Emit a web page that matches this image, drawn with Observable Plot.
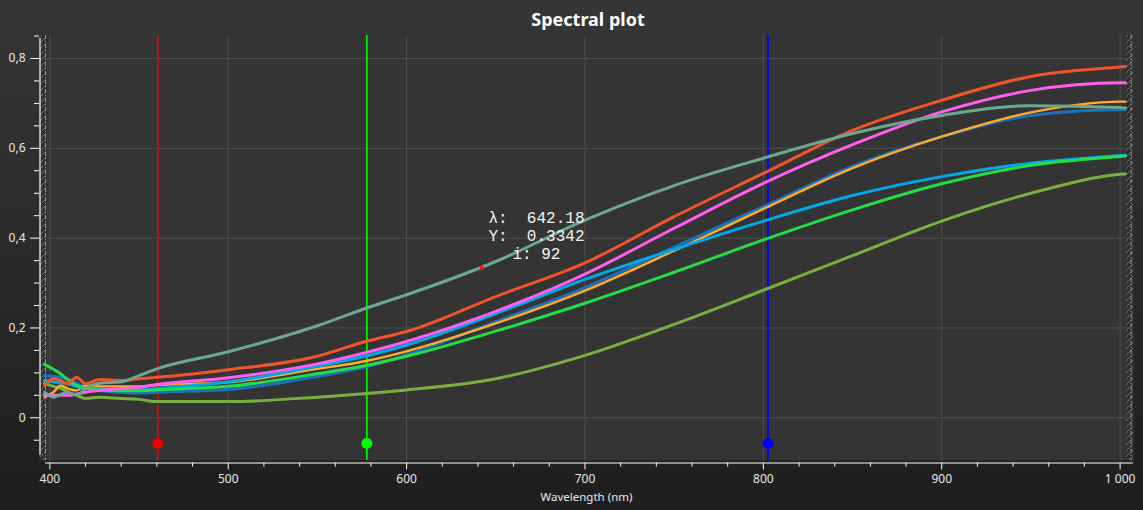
<!DOCTYPE html>
<html><head><meta charset="utf-8">
<script src="https://cdn.jsdelivr.net/npm/d3@7"></script>
<script src="https://cdn.jsdelivr.net/npm/@observablehq/plot@0.6"></script>
<style>
html,body{margin:0;padding:0;}
body{width:1143px;height:510px;overflow:hidden;background:linear-gradient(#363636,#1e1e1e);font-family:"Noto Sans",sans-serif;}
#title{height:35px;line-height:38px;text-align:center;color:#fff;font-weight:bold;font-size:18px;padding-left:33px;box-sizing:border-box;}
#chart svg{display:block;}
</style></head><body>
<div id="title">Spectral plot</div>
<div id="chart"></div>
<script>
// ---- data ----
const wavelengths = [397, 402, 406, 410, 415, 420, 428, 440, 450, 460, 500, 550, 578, 600, 650, 700, 750, 800, 850, 900, 950, 1000, 1003];
const olive   = [0.076,0.070,0.066,0.057,0.050,0.043,0.046,0.043,0.041,0.036,0.036,0.046,0.054,0.062,0.087,0.139,0.208,0.284,0.361,0.438,0.500,0.542,0.543];
const blue    = [0.094,0.092,0.090,0.087,0.077,0.068,0.060,0.057,0.055,0.057,0.063,0.092,0.114,0.140,0.214,0.290,0.380,0.470,0.560,0.626,0.673,0.686,0.686];
const orange  = [0.046,0.057,0.072,0.065,0.061,0.072,0.070,0.070,0.070,0.073,0.079,0.109,0.127,0.148,0.210,0.283,0.372,0.465,0.556,0.626,0.680,0.704,0.704];
const cyan    = [0.083,0.080,0.078,0.076,0.070,0.065,0.065,0.065,0.062,0.065,0.080,0.115,0.138,0.162,0.232,0.308,0.375,0.438,0.495,0.537,0.567,0.584,0.585];
const green   = [0.119,0.108,0.098,0.085,0.072,0.066,0.062,0.060,0.060,0.062,0.070,0.098,0.117,0.137,0.193,0.255,0.324,0.396,0.463,0.521,0.562,0.582,0.583];
const magenta = [0.050,0.050,0.050,0.050,0.053,0.057,0.061,0.065,0.068,0.074,0.089,0.120,0.146,0.170,0.237,0.320,0.422,0.522,0.608,0.681,0.729,0.746,0.746];
const red     = [0.072,0.087,0.083,0.076,0.090,0.076,0.085,0.083,0.087,0.090,0.107,0.137,0.171,0.192,0.270,0.345,0.448,0.544,0.640,0.707,0.760,0.781,0.782];
const teal    = [0.057,0.046,0.052,0.057,0.050,0.065,0.077,0.080,0.094,0.109,0.147,0.205,0.245,0.274,0.348,0.440,0.517,0.578,0.633,0.673,0.695,0.691,0.690];

const seriesNames  = ["olive","blue","orange","cyan","green","magenta","red","teal"];
const seriesValues = [olive, blue, orange, cyan, green, magenta, red, teal];
const seriesColors = ["#78b040","#1a72bf","#ffab2c","#00a9e8","#24dc48","#ff5ef0","#f2542a","#6aa990"];

const cursorWavelengths = [460.5, 577.7, 802.6];
const cursorColors = ["#ee0000","#00ff00","#0000ff"];
const cursorMarkerY = -0.057;

const probe = {lambda: 642.18, y: 0.3342, i: 92};

const xMajorTicks = [400, 500, 600, 700, 800, 900, 1000];
const xMinorTicks = d3.range(400, 1001, 20).filter(d => d % 100 !== 0);
const yMajorTicks = [0, 0.2, 0.4, 0.6, 0.8];
const yMinorTicks = d3.range(-0.05, 0.851, 0.05).map(d => +d.toFixed(2)).filter(d => Math.round(d * 100) % 20 !== 0);

// ---- chart ----
const xDom = [394.2, 1007.5];
const yDom = [-0.0951, 0.8512];

const lineMarks = seriesValues.map((vals, k) =>
  Plot.line(wavelengths.map((w, i) => ({w, v: vals[i]})), {
    x: "w", y: "v", stroke: seriesColors[k], strokeWidth: k === 2 ? 2.4 : 3, curve: "monotone-x"
  })
);

const fmtX = d => d >= 1000 ? String(d).replace(/\B(?=(\d{3})+(?!\d))/g, " ") : String(d);
const fmtY = d => d === 0 ? "0" : String(+d.toFixed(2)).replace(".", ",");

const chart = Plot.plot({
  width: 1143,
  height: 475,
  marginTop: 0,
  marginBottom: 50,
  marginLeft: 39,
  marginRight: 10,
  x: {domain: xDom},
  y: {domain: yDom},
  style: {background: "transparent", color: "#e8e8e8", fontSize: "12px", fontFamily: "'Noto Sans', sans-serif", overflow: "visible"},
  marks: [
    Plot.frame({fill: "#343434", stroke: null}),
    Plot.rect([0], {x1: 394.8, x2: 398.2, y1: yDom[0], y2: yDom[1], fill: "url(#hatch)"}),
    Plot.rect([0], {x1: 1003.5, x2: 1007.5, y1: yDom[0], y2: yDom[1], fill: "url(#hatch)"}),
    Plot.ruleX([397.6, 1006.2], {stroke: "#9a9a9a", strokeDasharray: "4,2,1,2", strokeWidth: 1}),
    Plot.gridX(xMajorTicks, {stroke: "#4d4d4d", strokeOpacity: 1}),
    Plot.gridY(yMajorTicks, {stroke: "#4d4d4d", strokeOpacity: 1}),
    Plot.ruleX(cursorWavelengths, {x: d => d, stroke: (d, i) => cursorColors[i], strokeWidth: 1.6}),
    ...lineMarks,
    Plot.dot(cursorWavelengths, {x: d => d, y: () => cursorMarkerY, fill: (d, i) => cursorColors[i], r: 5.5, stroke: null}),
    Plot.dot([probe], {x: "lambda", y: "y", fill: "#ff1010", r: 2.2}),
    Plot.text([probe], {
      x: () => 672.8, y: () => 0.406,
      text: d => `λ:  ${d.lambda.toFixed(2)}\nY:  ${d.y.toFixed(4)}\ni: ${d.i}`,
      textAnchor: "middle", lineAnchor: "middle", lineHeight: 1.13,
      fontFamily: "'Liberation Mono', monospace", fontSize: 16, fill: "#f4f4f4"
    }),
    // y axis
    Plot.ruleX([xDom[0]], {y1: -0.084, y2: 0.8445, stroke: "#ffffff", strokeWidth: 1.2, dx: 0.5}),
    Plot.axisY(yMajorTicks, {tickSize: 9, tickPadding: 5, tickFormat: fmtY, stroke: "#ffffff", fill: "#e8e8e8"}),
    Plot.axisY(yMinorTicks, {tickSize: 5, tickFormat: () => "", stroke: "#ffffff"}),
    // x axis
    Plot.ruleY([yDom[0]], {x1: 397.6, x2: xDom[1], stroke: "#ffffff", strokeWidth: 1.2, dy: 2.5}),
    Plot.axisX(xMajorTicks, {tickSize: 7, tickPadding: 4, tickFormat: fmtX, dy: 2.5, stroke: "#ffffff", fill: "#e8e8e8", label: null}),
    Plot.axisX(xMinorTicks, {tickSize: 4, tickFormat: () => "", dy: 2.5, stroke: "#ffffff", label: null}),
    Plot.text(["Wavelength (nm)"], {frameAnchor: "bottom", dy: 40, text: d => d, fill: "#e8e8e8", fontSize: 11.5})
  ]
});

// hatch pattern for the edge strips
const svg = d3.select(chart);
const defs = svg.insert("defs", ":first-child");
const pat = defs.append("pattern").attr("id", "hatch").attr("patternUnits", "userSpaceOnUse")
  .attr("width", 6).attr("height", 6);
pat.append("rect").attr("width", 6).attr("height", 6).attr("fill", "#2f2f2f");
pat.append("path").attr("d", "M-1,7 L7,-1").attr("stroke", "#6c6c6c").attr("stroke-width", 1);

document.getElementById("chart").appendChild(chart);
</script></body></html>
